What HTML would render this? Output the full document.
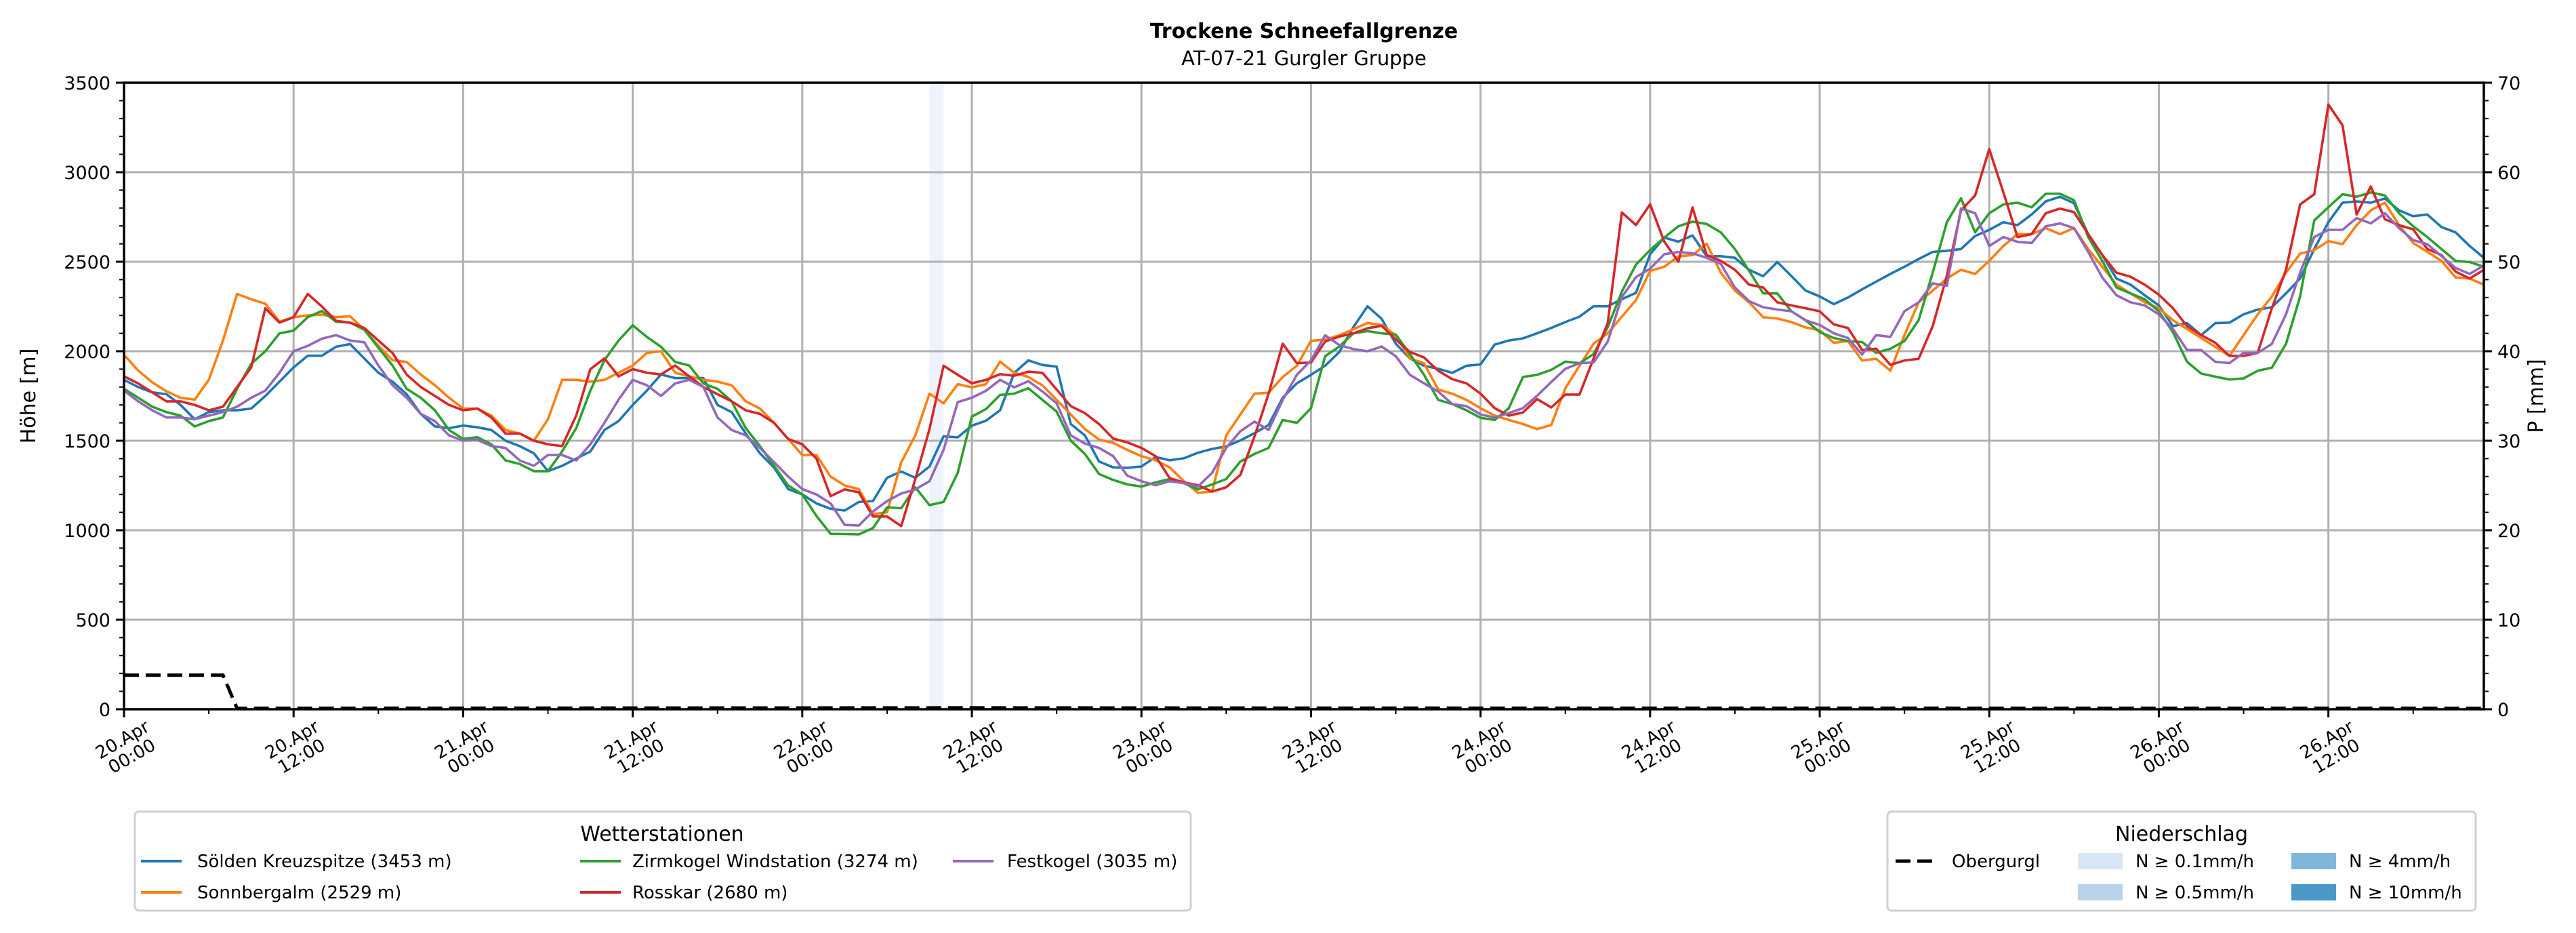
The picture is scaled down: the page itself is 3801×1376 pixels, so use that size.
<!DOCTYPE html>
<html><head><meta charset="utf-8"><style>
body{margin:0;background:#fff;}
svg text{font-family:"DejaVu Sans","Liberation Sans",sans-serif;fill:#000;}
</style></head><body>
<svg id="chart" xmlns="http://www.w3.org/2000/svg" width="3801" height="1371" viewBox="0 0 3801 1371">
<rect width="3801" height="1371" fill="#fff"/>
<text x="1924" y="56" font-size="30" font-weight="bold" text-anchor="middle">Trockene Schneefallgrenze</text>
<text x="1924" y="96" font-size="29" text-anchor="middle">AT-07-21 Gurgler Gruppe</text>
<g id="precip"></g>
<g id="grid"></g>
<g id="series"></g>
<g id="axes"></g>
<text transform="translate(52,584) rotate(-90)" font-size="30" text-anchor="middle">Höhe [m]</text>
<text transform="translate(3752,584) rotate(-90)" font-size="30" text-anchor="middle">P [mm]</text>
<g>
<rect x="199" y="1197" width="1558" height="146" rx="6" fill="#fff" stroke="#d0d0d0" stroke-width="3"/>
<text x="977" y="1240" font-size="30" text-anchor="middle">Wetterstationen</text>
<g><line x1="208" y1="1270" x2="268" y2="1270" stroke="#1f77b4" stroke-width="4"/><text x="291" y="1279" font-size="26">Sölden Kreuzspitze (3453 m)</text></g>
<g><line x1="208" y1="1316" x2="268" y2="1316" stroke="#ff7f0e" stroke-width="4"/><text x="291" y="1325" font-size="26">Sonnbergalm (2529 m)</text></g>
<g><line x1="856" y1="1270" x2="916" y2="1270" stroke="#2ca02c" stroke-width="4"/><text x="933" y="1279" font-size="26">Zirmkogel Windstation (3274 m)</text></g>
<g><line x1="856" y1="1316" x2="916" y2="1316" stroke="#d62728" stroke-width="4"/><text x="933" y="1325" font-size="26">Rosskar (2680 m)</text></g>
<g><line x1="1406" y1="1270" x2="1466" y2="1270" stroke="#9467bd" stroke-width="4"/><text x="1486" y="1279" font-size="26">Festkogel (3035 m)</text></g>
</g>
<g>
<rect x="2785" y="1197" width="868" height="146" rx="6" fill="#fff" stroke="#d0d0d0" stroke-width="3"/>
<text x="3219" y="1240" font-size="30" text-anchor="middle">Niederschlag</text>
<g><line x1="2797" y1="1270" x2="2855" y2="1270" stroke="#000" stroke-width="5" stroke-dasharray="22,10"/><text x="2880" y="1279" font-size="26">Obergurgl</text></g>
<g><rect x="3066" y="1258" width="66" height="24" fill="#d8e7f5"/><text x="3151" y="1279" font-size="26">N ≥ 0.1mm/h</text></g>
<g><rect x="3066" y="1304" width="66" height="24" fill="#b9d4ea"/><text x="3151" y="1325" font-size="26">N ≥ 0.5mm/h</text></g>
<g><rect x="3381" y="1258" width="66" height="24" fill="#80b6da"/><text x="3466" y="1279" font-size="26">N ≥ 4mm/h</text></g>
<g><rect x="3381" y="1304" width="66" height="24" fill="#4a97c9"/><text x="3466" y="1325" font-size="26">N ≥ 10mm/h</text></g>
</g>
</svg>
<script>
const soelden=[1840,1800,1770,1760,1700,1620,1660,1670,1670,1680,1750,1830,1910,1975,1975,2025,2040,1960,1880,1830,1760,1650,1580,1570,1585,1575,1560,1500,1470,1430,1330,1360,1400,1440,1560,1610,1700,1780,1870,1850,1850,1850,1700,1660,1540,1430,1350,1230,1200,1150,1120,1110,1158,1163,1293,1328,1293,1356,1525,1519,1584,1612,1670,1879,1949,1923,1914,1593,1530,1384,1351,1349,1356,1409,1391,1402,1433,1454,1468,1502,1542,1588,1740,1821,1868,1919,1995,2135,2251,2181,2042,1960,1919,1902,1879,1919,1926,2037,2060,2072,2100,2130,2163,2193,2251,2251,2291,2326,2542,2635,2612,2647,2531,2531,2522,2455,2419,2498,2420,2339,2306,2263,2300,2346,2389,2432,2472,2515,2555,2561,2571,2644,2678,2721,2704,2764,2837,2863,2827,2654,2538,2406,2372,2313,2256,2140,2157,2090,2157,2160,2206,2233,2246,2323,2406,2571,2721,2830,2837,2830,2853,2787,2754,2764,2694,2664,2588,2522];
const sonnbergalm=[1980,1892,1826,1776,1740,1730,1840,2060,2320,2290,2265,2165,2190,2200,2205,2190,2195,2120,2030,1950,1940,1870,1810,1740,1680,1680,1640,1560,1540,1500,1620,1840,1840,1830,1840,1880,1920,1990,2000,1880,1860,1840,1830,1810,1720,1680,1600,1510,1420,1420,1300,1250,1230,1090,1100,1379,1530,1763,1709,1816,1798,1816,1942,1879,1856,1809,1728,1647,1565,1507,1488,1449,1414,1391,1351,1274,1209,1216,1530,1647,1763,1768,1856,1919,2058,2065,2089,2123,2158,2147,2089,1960,1933,1786,1763,1728,1682,1640,1616,1593,1565,1588,1793,1919,2042,2100,2193,2286,2449,2472,2530,2537,2600,2439,2339,2273,2190,2183,2163,2133,2117,2047,2057,1948,1958,1891,2090,2273,2339,2406,2455,2432,2505,2588,2654,2654,2688,2654,2688,2571,2472,2372,2323,2273,2240,2173,2124,2074,2024,1974,2090,2206,2306,2439,2545,2565,2615,2598,2704,2787,2830,2704,2605,2555,2505,2412,2406,2372];
const zirmkogel=[1790,1740,1690,1660,1640,1580,1610,1630,1790,1930,2000,2100,2115,2190,2225,2165,2160,2120,2020,1920,1790,1740,1670,1560,1510,1520,1480,1390,1370,1330,1330,1440,1570,1780,1950,2060,2145,2080,2025,1940,1920,1820,1790,1720,1570,1470,1360,1250,1200,1080,980,979,977,1012,1128,1123,1240,1140,1158,1321,1635,1677,1756,1763,1793,1728,1663,1500,1426,1314,1281,1256,1244,1267,1286,1263,1228,1256,1286,1384,1426,1460,1616,1600,1682,1972,2026,2100,2112,2100,2093,1984,1868,1728,1705,1670,1628,1616,1682,1856,1868,1896,1942,1933,1984,2135,2333,2484,2565,2635,2698,2724,2711,2664,2571,2450,2323,2323,2223,2173,2107,2074,2057,2051,1991,2014,2057,2173,2439,2721,2854,2664,2771,2820,2830,2804,2880,2880,2844,2638,2505,2356,2323,2290,2223,2107,1941,1875,1858,1842,1848,1891,1908,2041,2306,2731,2804,2877,2863,2887,2870,2771,2698,2638,2571,2505,2498,2472];
const rosskar=[1860,1820,1770,1720,1720,1700,1670,1690,1800,1910,2240,2160,2190,2320,2250,2170,2160,2130,2060,1990,1870,1800,1750,1700,1670,1680,1630,1540,1540,1500,1480,1470,1640,1900,1960,1860,1900,1880,1870,1920,1860,1800,1760,1720,1670,1650,1600,1510,1480,1400,1190,1228,1212,1077,1077,1023,1286,1565,1919,1868,1821,1840,1872,1863,1886,1879,1786,1693,1654,1593,1512,1491,1460,1414,1291,1267,1251,1216,1240,1309,1523,1763,2042,1933,1937,2054,2082,2100,2128,2142,2065,1996,1965,1891,1844,1821,1763,1682,1640,1658,1733,1686,1758,1758,1960,2158,2775,2705,2821,2612,2500,2803,2538,2505,2455,2372,2356,2273,2256,2240,2223,2150,2130,2007,2014,1924,1948,1958,2140,2422,2787,2870,3129,2887,2638,2654,2771,2797,2777,2654,2538,2439,2416,2372,2316,2240,2140,2090,2047,1974,1974,1991,2240,2455,2820,2877,3378,3262,2764,2920,2737,2704,2681,2571,2538,2445,2406,2455];
const festkogel=[1780,1720,1670,1630,1630,1620,1640,1660,1690,1740,1780,1880,2000,2030,2070,2090,2060,2050,1920,1810,1740,1650,1610,1530,1500,1505,1470,1460,1390,1360,1420,1420,1390,1480,1600,1730,1840,1810,1750,1820,1840,1800,1630,1560,1530,1460,1380,1300,1230,1200,1150,1030,1026,1105,1163,1205,1228,1274,1449,1716,1740,1779,1840,1798,1833,1775,1709,1530,1484,1460,1414,1305,1274,1251,1274,1263,1244,1321,1460,1553,1607,1560,1728,1868,1949,2089,2035,2012,2000,2026,1972,1868,1821,1775,1705,1693,1647,1630,1654,1682,1751,1828,1902,1933,1937,2054,2303,2414,2461,2542,2554,2547,2522,2488,2356,2280,2246,2233,2223,2173,2147,2100,2074,1981,2090,2080,2223,2273,2379,2366,2797,2771,2588,2638,2611,2605,2698,2714,2688,2555,2412,2313,2273,2256,2206,2124,2007,2007,1941,1934,1991,1991,2041,2206,2439,2638,2678,2678,2744,2714,2771,2688,2621,2598,2532,2465,2432,2479];
const obergurglHours=[0,1,2,3,4,5,6,7,8,60,84,167];
const obergurglValues=[190,190,190,190,190,190,190,190,5,8,6,5];
const precipHours=[57];
const precipAmounts=[0.2];
const xTickHours=[0,12,24,36,48,60,72,84,96,108,120,132,144,156];
const xTickDays=["20.Apr","20.Apr","21.Apr","21.Apr","22.Apr","22.Apr","23.Apr","23.Apr","24.Apr","24.Apr","25.Apr","25.Apr","26.Apr","26.Apr"];
const xTickTimes=["00:00","12:00","00:00","12:00","00:00","12:00","00:00","12:00","00:00","12:00","00:00","12:00","00:00","12:00"];
const yTicks=[0,500,1000,1500,2000,2500,3000,3500];
const y2Ticks=[0,10,20,30,40,50,60,70];

const NS="http://www.w3.org/2000/svg";
const L=183,R=3665,T=122,B=1046,HMAX=167,YMAX=3500,Y2MAX=70;
const x=h=>L+h*(R-L)/HMAX;
const y=v=>B-v*(B-T)/YMAX;
const y2=v=>B-v*(B-T)/Y2MAX;
function mk(tag,attrs,parent){const e=document.createElementNS(NS,tag);for(const k in attrs)e.setAttribute(k,attrs[k]);parent.appendChild(e);return e;}
const gP=document.getElementById('precip'),gG=document.getElementById('grid'),gS=document.getElementById('series'),gA=document.getElementById('axes');
function pcol(a){return a>=10?'#4a97c9':a>=4?'#80b6da':a>=0.5?'#b9d4ea':'#eef3fb';}
precipHours.forEach((h,i)=>{
  const r=mk('rect',{x:x(h),y:T,width:x(h+1)-x(h),height:B-T,fill:pcol(precipAmounts[i])},gP);
  
  
});
xTickHours.forEach(h=>{
  const l=mk('line',{x1:x(h),x2:x(h),y1:T,y2:B,stroke:'#b0b0b0','stroke-width':3},gG);
  
  
});
yTicks.forEach(v=>{
  const l=mk('line',{x1:L,x2:R,y1:y(v),y2:y(v),stroke:'#b0b0b0','stroke-width':3},gG);
  
  
});
const series=[[soelden,'#1f77b4','line-soelden'],[sonnbergalm,'#ff7f0e','line-sonnbergalm'],[zirmkogel,'#2ca02c','line-zirmkogel'],[rosskar,'#d62728','line-rosskar'],[festkogel,'#9467bd','line-festkogel']];
series.forEach(([d,c,n])=>{
  const p=mk('polyline',{points:d.map((v,i)=>x(i).toFixed(1)+','+y(v).toFixed(1)).join(' '),fill:'none',stroke:c,'stroke-width':3.6,'stroke-linejoin':'round'},gS);
  
  
});
const ob=mk('polyline',{points:obergurglHours.map((h,i)=>x(h).toFixed(1)+','+y(obergurglValues[i]).toFixed(1)).join(' '),fill:'none',stroke:'#000','stroke-width':5,'stroke-dasharray':'22,10'},gS);


const frame=mk('rect',{x:L,y:T,width:R-L,height:B-T,fill:'none',stroke:'#000','stroke-width':3.5},gA);


for(let h=0;h<=HMAX;h+=6){
  const major=h%12===0;
  mk('line',{x1:x(h),x2:x(h),y1:B,y2:B+(major?12:7),stroke:'#000','stroke-width':major?3:2},gA);
}
for(let v=0;v<=YMAX;v+=100){
  const major=v%500===0;
  mk('line',{x1:L,x2:L-(major?12:7),y1:y(v),y2:y(v),stroke:'#000','stroke-width':major?3:2},gA);
  mk('line',{x1:R,x2:R+(major?12:7),y1:y(v),y2:y(v),stroke:'#000','stroke-width':major?3:2},gA);
}
yTicks.forEach(v=>{
  const t=mk('text',{x:L-20,y:y(v)+10,'font-size':27,'text-anchor':'end'},gA);
  t.textContent=v;
  
  
});
y2Ticks.forEach(v=>{
  const t=mk('text',{x:R+20,y:y2(v)+10,'font-size':27,'text-anchor':'start'},gA);
  t.textContent=v;
  
  
});
xTickHours.forEach((h,i)=>{
  const g=mk('g',{transform:'translate('+(x(h)+4)+',1102) rotate(-30)'},gA);
  
  
  const a=mk('text',{x:0,y:-4,'font-size':26,'text-anchor':'middle'},g);a.textContent=xTickDays[i];
  const b=mk('text',{x:0,y:24,'font-size':26,'text-anchor':'middle'},g);b.textContent=xTickTimes[i];
});
</script>
</body></html>
